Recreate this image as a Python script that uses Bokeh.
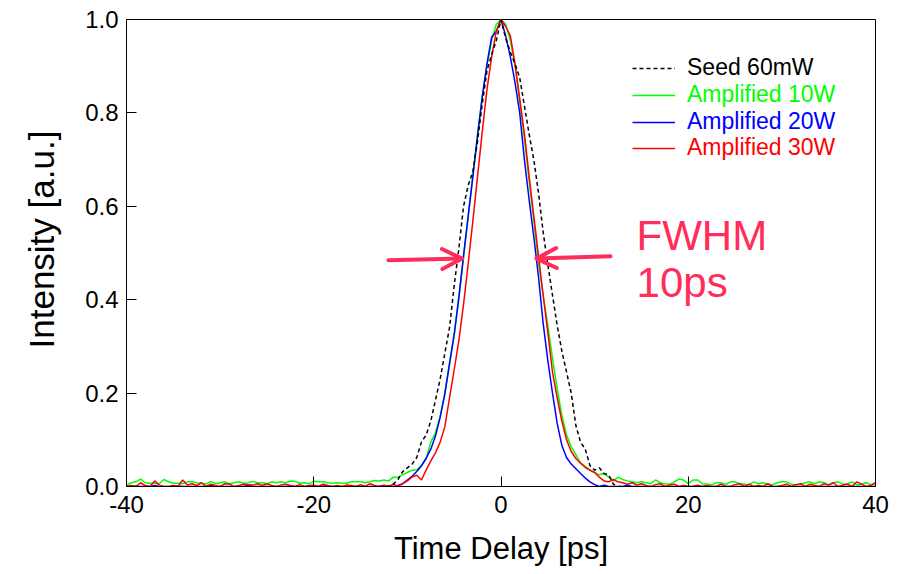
import numpy as np
from bokeh.plotting import figure
from bokeh.models import (Range1d, FixedTicker, PrintfTickFormatter, Legend, LegendItem,
                          Label, Arrow, OpenHead, Title)
from bokeh.embed import file_html
from bokeh.resources import INLINE

# ---------------- data ----------------
# time grid (ps) for the amplified traces: -40 .. 40 in 0.5 ps steps
time_ps = np.round(np.arange(-40.0, 40.001, 0.5), 2)
# time grid (ps) for the seed trace: -13 .. 13 in 0.5 ps steps
seed_time_ps = np.round(np.arange(-13.0, 13.001, 0.5), 2)

# Seed 60mW (-13 .. 13)
seed_60mW = [
    0.000, 0.000, 0.000, 0.005, 0.015, 0.032, 0.040, 0.048, 0.062, 0.095,
    0.110, 0.140, 0.185, 0.230, 0.285, 0.340, 0.430, 0.510, 0.600, 0.645,
    0.675, 0.740, 0.820, 0.890, 0.925, 0.955,
    1.000,
    0.960, 0.930, 0.905, 0.875, 0.815, 0.755, 0.700, 0.630, 0.545, 0.475,
    0.410, 0.345, 0.290, 0.245, 0.200, 0.130, 0.095, 0.080, 0.045, 0.035,
    0.040, 0.028, 0.025, 0.005, 0.000, 0.000,
]

# Amplified 10W
amp10_left = [
    0.003, 0.008, 0.010, 0.016, 0.008, 0.007, 0.007, 0.006, 0.015, 0.010,
    0.007, 0.007, 0.006, 0.010, 0.010, 0.008, 0.007, 0.005, 0.011, 0.006,
    0.008, 0.010, 0.006, 0.008, 0.010, 0.007, 0.008, 0.011, 0.008, 0.008,
    0.006, 0.010, 0.008, 0.010, 0.008, 0.011, 0.011, 0.007, 0.008, 0.006,
    0.011, 0.010, 0.010, 0.008, 0.007, 0.008, 0.007, 0.007, 0.010, 0.010,
    0.010, 0.008, 0.010, 0.013, 0.012, 0.014,
]
amp10_core = [
    0.012, 0.020, 0.020, 0.025, 0.030, 0.035, 0.036, 0.045, 0.060, 0.095,
    0.115, 0.150, 0.200, 0.265, 0.325, 0.405, 0.490, 0.578, 0.665, 0.755,
    0.835, 0.900, 0.955, 0.990,
    1.000,
    0.990, 0.955, 0.900, 0.825, 0.745, 0.655, 0.570, 0.480, 0.410, 0.345,
    0.275, 0.210, 0.152, 0.110, 0.085, 0.068, 0.050, 0.040, 0.035, 0.030,
    0.025, 0.028, 0.020, 0.012,
]
amp10_right = [
    0.020, 0.015, 0.012, 0.010, 0.008, 0.010, 0.008, 0.006, 0.014, 0.008,
    0.006, 0.005, 0.010, 0.016, 0.014, 0.006, 0.014, 0.014, 0.006, 0.005,
    0.004, 0.008, 0.008, 0.004, 0.010, 0.010, 0.006, 0.005, 0.004, 0.010,
    0.006, 0.008, 0.005, 0.004, 0.008, 0.010, 0.010, 0.005, 0.004, 0.005,
    0.008, 0.010, 0.006, 0.010, 0.008, 0.004, 0.008, 0.010, 0.005, 0.006,
    0.010, 0.004, 0.005, 0.008, 0.004, 0.006,
]

# Amplified 20W
amp20_left = [
    0.000, 0.000, 0.001, 0.000, 0.000, 0.000, 0.002, 0.000, 0.000, 0.000,
    0.000, 0.001, 0.000, 0.000, 0.000, 0.000, 0.000, 0.000, 0.002, 0.000,
    0.000, 0.000, 0.000, 0.000, 0.000, 0.000, 0.003, 0.000, 0.000, 0.000,
    0.000, 0.000, 0.000, 0.000, 0.000, 0.001, 0.000, 0.000, 0.000, 0.000,
    0.000, 0.000, 0.004, 0.000, 0.000, 0.000, 0.000, 0.000, 0.000, 0.000,
    0.000, 0.000, 0.000, 0.000, 0.000, 0.002,
]
amp20_core = [
    0.000, 0.000, 0.002, 0.006, 0.014, 0.022, 0.032, 0.044, 0.060, 0.080,
    0.108, 0.148, 0.198, 0.262, 0.325, 0.405, 0.495, 0.580, 0.665, 0.752,
    0.835, 0.905, 0.962, 0.975,
    1.000,
    0.965, 0.920, 0.865, 0.800, 0.700, 0.615, 0.535, 0.450, 0.350, 0.270,
    0.200, 0.135, 0.088, 0.062, 0.048, 0.038, 0.028, 0.018, 0.010, 0.004,
    0.000, 0.003, 0.000, 0.000,
]
amp20_right = [
    0.000, 0.000, 0.003, 0.000, 0.000, 0.000, 0.000, 0.000, 0.000, 0.000,
    0.000, 0.000, 0.000, 0.000, 0.000, 0.000, 0.000, 0.002, 0.000, 0.000,
    0.000, 0.000, 0.000, 0.000, 0.000, 0.000, 0.000, 0.000, 0.000, 0.000,
    0.000, 0.000, 0.000, 0.000, 0.000, 0.000, 0.000, 0.000, 0.000, 0.000,
    0.000, 0.000, 0.000, 0.000, 0.000, 0.000, 0.000, 0.000, 0.000, 0.000,
    0.000, 0.000, 0.000, 0.000, 0.000, 0.000,
]

# Amplified 30W
amp30_left = [
    0.000, 0.002, 0.000, 0.008, 0.002, 0.000, 0.012, 0.003, 0.000, 0.000,
    0.002, 0.000, 0.014, 0.003, 0.006, 0.002, 0.008, 0.000, 0.005, 0.002,
    0.000, 0.006, 0.005, 0.000, 0.002, 0.005, 0.004, 0.003, 0.006, 0.002,
    0.006, 0.002, 0.000, 0.003, 0.005, 0.002, 0.000, 0.004, 0.000, 0.002,
    0.003, 0.000, 0.005, 0.002, 0.000, 0.002, 0.000, 0.003, 0.002, 0.000,
    0.004, 0.000, 0.006, 0.002, 0.000, 0.003,
]
amp30_core = [
    0.000, 0.005, 0.000, 0.006, 0.012, 0.020, 0.024, 0.014, 0.035, 0.055,
    0.072, 0.095, 0.128, 0.190, 0.250, 0.313, 0.390, 0.478, 0.570, 0.665,
    0.760, 0.850, 0.920, 0.975,
    1.000,
    0.985, 0.965, 0.905, 0.830, 0.755, 0.665, 0.580, 0.495, 0.410, 0.330,
    0.245, 0.190, 0.140, 0.100, 0.075, 0.060, 0.050, 0.042, 0.035, 0.030,
    0.020, 0.012, 0.010, 0.015,
]
amp30_right = [
    0.010, 0.008, 0.005, 0.008, 0.003, 0.006, 0.002, 0.000, 0.004, 0.006,
    0.000, 0.003, 0.005, 0.000, 0.002, 0.000, 0.000, 0.003, 0.000, 0.002,
    0.000, 0.000, 0.005, 0.000, 0.000, 0.004, 0.006, 0.000, 0.005, 0.000,
    0.002, 0.000, 0.006, 0.000, 0.000, 0.002, 0.005, 0.000, 0.004, 0.006,
    0.000, 0.005, 0.002, 0.000, 0.006, 0.003, 0.008, 0.000, 0.003, 0.005,
    0.000, 0.010, 0.005, 0.000, 0.002, 0.008,
]

x_ticks = [-40, -20, 0, 20, 40]
y_ticks = [0.0, 0.2, 0.4, 0.6, 0.8, 1.0]

amp10 = amp10_left + amp10_core + amp10_right
amp20 = amp20_left + amp20_core + amp20_right
amp30 = amp30_left + amp30_core + amp30_right
assert len(amp10) == len(time_ps) and len(amp20) == len(time_ps) and len(amp30) == len(time_ps)
assert len(seed_60mW) == len(seed_time_ps)

# ---------------- figure ----------------
FONT = "Liberation Sans"
PINK = "#FF2D5A"

p = figure(width=904, height=574, x_range=Range1d(-40, 40), y_range=Range1d(0, 1.0),
           output_backend="svg", toolbar_location=None,
           min_border_left=126, min_border_right=29, min_border_top=19, min_border_bottom=88)
p.background_fill_color = "white"
p.border_fill_color = "white"
p.xgrid.visible = False
p.ygrid.visible = False
p.outline_line_color = "black"
p.outline_line_width = 1

for ax in (p.xaxis[0], p.yaxis[0]):
    ax.axis_line_color = "black"
    ax.axis_line_width = 1
    ax.major_tick_in = 10
    ax.major_tick_out = 0
    ax.major_tick_line_color = "black"
    ax.minor_tick_in = 0
    ax.minor_tick_out = 0
    ax.major_label_text_font = FONT
    ax.major_label_text_font_size = "24px"
    ax.major_label_text_color = "black"
    ax.axis_label_text_font = FONT
    ax.axis_label_text_font_size = "31px"
    ax.axis_label_text_font_style = "normal"
    ax.axis_label_text_color = "black"

p.xaxis.ticker = FixedTicker(ticks=x_ticks)
p.xaxis.formatter = PrintfTickFormatter(format="%d")
p.xaxis.major_label_standoff = 9
p.xaxis.axis_label = "Time Delay [ps]"
p.xaxis.axis_label_standoff = 15

p.yaxis.ticker = FixedTicker(ticks=y_ticks)
p.yaxis.formatter = PrintfTickFormatter(format="%.1f")
p.yaxis.major_label_standoff = 8

# y-axis title placed as a side title so it can sit slightly above the frame centre
p.add_layout(Title(text="Intensity [a.u.]", align="left", offset=138, vertical_align="top",
                   text_font=FONT, text_font_size="35px", text_font_style="normal",
                   text_color="black", standoff=40), "left")

r10 = p.line(time_ps, amp10, line_color="#00FF00", line_width=1.5)
r20 = p.line(time_ps, amp20, line_color="#0000FF", line_width=1.5)
r30 = p.line(time_ps, amp30, line_color="#FF0000", line_width=1.5)
rseed = p.line(seed_time_ps, seed_60mW, line_color="black", line_width=1.5, line_dash="4 3")

# legend: one legend per entry so each label can have its own colour
entries = [("Seed 60mW", rseed, "black"), ("Amplified 10W", r10, "#00FF00"),
           ("Amplified 20W", r20, "#0000FF"), ("Amplified 30W", r30, "#FF0000")]
row_h = 26.7
for i, (lab, rend, col) in enumerate(entries):
    leg = Legend(items=[LegendItem(label=lab, renderers=[rend])],
                 location=(506, int(round(404.7 - i * row_h))),
                 label_text_color=col, label_text_font=FONT, label_text_font_size="23px",
                 glyph_width=43, glyph_height=26, label_height=26, label_standoff=12,
                 padding=0, margin=0, spacing=0,
                 border_line_alpha=0, background_fill_alpha=0)
    p.add_layout(leg)

# FWHM arrows and annotation
for xs, ys, xe, ye in [(-12.02, 0.4845, -4.15, 0.488), (11.70, 0.493, 3.79, 0.488)]:
    p.add_layout(Arrow(end=OpenHead(size=20, line_width=4, line_color=PINK, line_cap="round",
                                    line_join="round"),
                       x_start=xs, y_start=ys, x_end=xe, y_end=ye,
                       line_width=4, line_color=PINK, line_cap="round"))

p.add_layout(Label(x=14.48, y=0.538, text="FWHM", text_font=FONT, text_font_size="42px",
                   text_color=PINK, text_baseline="alphabetic"))
p.add_layout(Label(x=14.48, y=0.437, text="10ps", text_font=FONT, text_font_size="42px",
                   text_color=PINK, text_baseline="alphabetic"))

open("out.html", "w").write(file_html(p, INLINE))
